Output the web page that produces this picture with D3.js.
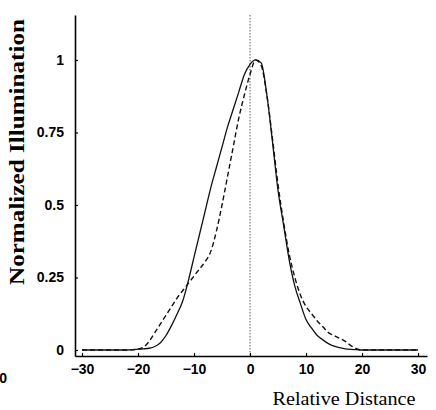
<!DOCTYPE html>
<html>
<head>
<meta charset="utf-8">
<script src="https://cdn.jsdelivr.net/npm/d3@7"></script>
<style>
  body { margin: 0; background: #fff; }
  svg { display: block; }
</style>
</head>
<body>
<div id="chart"></div>
<script>
// values
var distance = [-30, -25, -22, -20, -19, -18, -17, -16, -15, -14, -13, -12, -11, -10, -9, -8, -7, -6, -5, -4, -3, -2, -1, 0, 1, 2, 3, 4, 5, 6, 7, 8, 9, 10, 11, 12, 13, 14, 15, 16, 17, 18, 19, 20, 25, 30];
var solidValues = [0, 0, 0, 0.003, 0.004, 0.006, 0.012, 0.025, 0.05, 0.085, 0.125, 0.17, 0.24, 0.32, 0.4, 0.48, 0.56, 0.63, 0.7, 0.77, 0.83, 0.89, 0.95, 0.985, 1.0, 0.99, 0.88, 0.72, 0.55, 0.43, 0.31, 0.22, 0.16, 0.105, 0.075, 0.05, 0.035, 0.022, 0.013, 0.008, 0.004, 0.002, 0.001, 0, 0, 0];
var dashedValues = [0, 0, 0, 0.003, 0.01, 0.03, 0.06, 0.09, 0.12, 0.15, 0.18, 0.205, 0.23, 0.255, 0.28, 0.305, 0.34, 0.41, 0.5, 0.6, 0.7, 0.8, 0.88, 0.95, 1.0, 0.98, 0.88, 0.73, 0.57, 0.44, 0.33, 0.25, 0.19, 0.15, 0.125, 0.1, 0.08, 0.06, 0.05, 0.04, 0.03, 0.015, 0.005, 0, 0, 0];
var xTicks = [-30, -20, -10, 0, 10, 20, 30];
var yTicks = [0, 0.25, 0.5, 0.75, 1];
var xDomain = [-31.25, 31.6];
var yDomain = [-0.0207, 1.155];

var width = 436, height = 410;

var svg = d3.select("#chart").append("svg")
    .attr("width", width)
    .attr("height", height)
    .attr("viewBox", [0, 0, width, height]);

var xScale = d3.scaleLinear(xDomain, [75, 427]);
var yScale = d3.scaleLinear(yDomain, [356, 15]);

// dotted centre line
svg.append("line")
    .attr("x1", xScale(0)).attr("x2", xScale(0))
    .attr("y1", yScale(yDomain[1])).attr("y2", yScale(yDomain[0]))
    .attr("stroke", "#777")
    .attr("stroke-width", 1.2)
    .attr("stroke-dasharray", "1.5,1.5");

var line = d3.line()
    .x((d, i) => xScale(distance[i]))
    .y(d => yScale(d))
    .curve(d3.curveMonotoneX);

svg.append("path")
    .attr("d", line(solidValues))
    .attr("fill", "none")
    .attr("stroke", "#111")
    .attr("stroke-width", 1.3);

svg.append("path")
    .attr("d", line(dashedValues))
    .attr("fill", "none")
    .attr("stroke", "#111")
    .attr("stroke-width", 1.4)
    .attr("stroke-dasharray", "5,3");

// axes
var xAxis = d3.axisBottom(xScale)
    .tickValues(xTicks)
    .tickSizeInner(-3)
    .tickSizeOuter(0)
    .tickPadding(8)
    .tickFormat(d3.format("d"));

var yAxis = d3.axisLeft(yScale)
    .tickValues(yTicks)
    .tickSizeInner(-3)
    .tickSizeOuter(0)
    .tickPadding(11)
    .tickFormat(d => String(d));

var gx = svg.append("g")
    .attr("transform", "translate(0," + yScale(yDomain[0]) + ")")
    .call(xAxis);

var gy = svg.append("g")
    .attr("transform", "translate(" + xScale(xDomain[0]) + ",0)")
    .call(yAxis);

[gx, gy].forEach(g => {
    g.select(".domain").attr("stroke", "#000").attr("stroke-width", 1.6);
    g.selectAll(".tick line").attr("stroke", "#000").attr("stroke-width", 1.2);
    g.selectAll(".tick text")
        .attr("fill", "#000")
        .style("font-family", "'Liberation Sans', Arial, sans-serif")
        .style("font-weight", "bold")
        .style("font-size", "14px");
});
gy.selectAll(".tick text").attr("dy", "0.32em");

// axis titles
svg.append("text")
    .attr("transform", "translate(24,152) rotate(-90)")
    .attr("text-anchor", "middle")
    .attr("textLength", 266)
    .attr("lengthAdjust", "spacingAndGlyphs")
    .style("font-family", "'Liberation Serif', 'Times New Roman', serif")
    .style("font-weight", "bold")
    .style("font-size", "20px")
    .text("Normalized Illumination");

svg.append("text")
    .attr("x", 344)
    .attr("y", 405)
    .attr("text-anchor", "middle")
    .attr("textLength", 143)
    .attr("lengthAdjust", "spacingAndGlyphs")
    .style("font-family", "'Liberation Serif', 'Times New Roman', serif")
    .style("font-size", "18px")
    .text("Relative Distance");

// cropped label fragment at the left edge
svg.append("text")
    .attr("x", 7)
    .attr("y", 383)
    .attr("text-anchor", "end")
    .style("font-family", "'Liberation Sans', Arial, sans-serif")
    .style("font-weight", "bold")
    .style("font-size", "14px")
    .text("0");
</script>
</body>
</html>
